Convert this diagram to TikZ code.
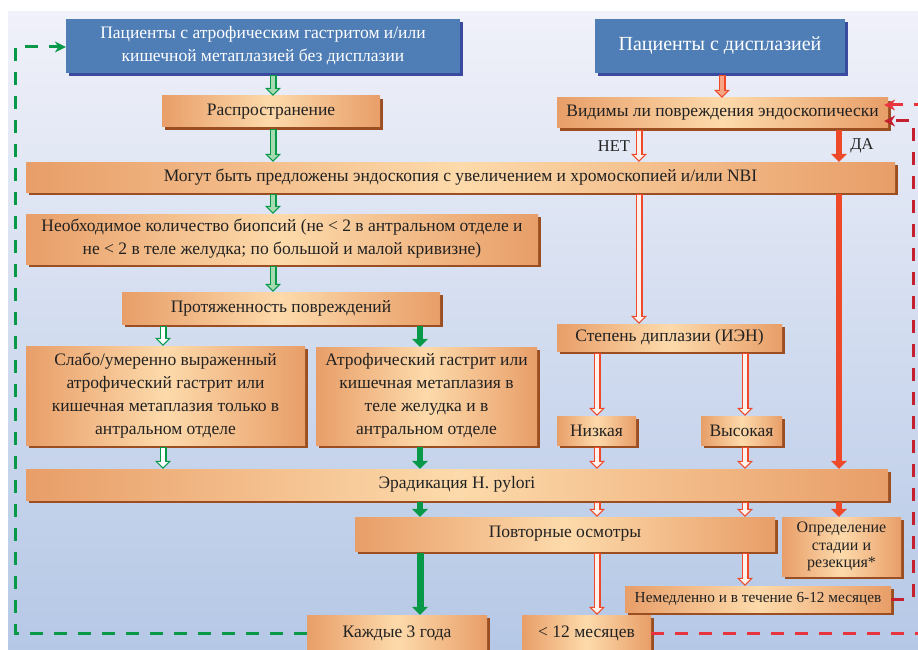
\documentclass[tikz,border=0pt]{standalone}
\usepackage{fontspec}
\setmainfont{Liberation Serif}
\usepackage{tikz}
\usetikzlibrary{arrows.meta, shadows}

\definecolor{boxdark}{HTML}{E89E68}
\definecolor{boxlight}{HTML}{FDDAAB}
\definecolor{boxshade}{HTML}{9A4E22}
\definecolor{patblue}{HTML}{4F7EB6}
\definecolor{patshade}{HTML}{3A4A9E}
\definecolor{arrgreen}{HTML}{079848}
\definecolor{palegreen}{HTML}{A6DAB0}
\definecolor{arrred}{HTML}{EE4A2A}
\definecolor{palered}{HTML}{FFF1EC}
\definecolor{salmon}{HTML}{F7A582}
\definecolor{loopred}{HTML}{E8343C}
\definecolor{darkred}{HTML}{C42030}
\definecolor{bgtop}{HTML}{F0F1F9}
\definecolor{bgbottom}{HTML}{B5C8E6}
\definecolor{inktext}{HTML}{222222}

\tikzstyle{patient} = [rectangle, minimum height=54pt, text=white, fill=patblue, align=center, font=\fontsize{17.5}{23}\selectfont, drop shadow={shadow xshift=3pt, shadow yshift=-3pt, opacity=1, fill=patshade}]
\tikzstyle{process} = [rectangle, minimum height=30pt, align=center, text=inktext, left color=boxdark, right color=boxdark, middle color=boxlight, font=\fontsize{17.5}{23}\selectfont, drop shadow={shadow xshift=3pt, shadow yshift=-3pt, opacity=1, fill=boxshade}]
\tikzstyle{small} = [font=\fontsize{15.3}{17.5}\selectfont]
\tikzstyle{answer} = [text=inktext, font=\fontsize{16.5}{20}\selectfont]
\tikzstyle{hollowout} = [line width=7pt, shorten <=2pt, -{Triangle[length=8pt, width=16pt, line width=0pt]}]
\tikzstyle{hollowin} = [line width=4pt, shorten <=3pt, shorten >=1.6pt, -{Triangle[length=5pt, width=10pt, line width=0pt]}]
\tikzstyle{solidarrow} = [line width=6pt, shorten <=2pt, -{Triangle[length=8pt, width=16pt, line width=0pt]}]
\tikzstyle{loopline} = [line width=3pt, dash pattern=on 13pt off 11pt, -{Stealth[length=11pt, width=11pt, line width=0pt]}]

\newcommand{\hollowarrow}[4]{\draw[hollowout, draw=#1] #3 -- #4; \draw[hollowin, draw=#2] #3 -- #4;}

\begin{document}
\begin{tikzpicture}[x=1pt, y=-1pt]

    \useasboundingbox (0,0) rectangle (918,650);
    \fill[white] (0,0) rectangle (918,650);
    \shade[top color=bgtop, bottom color=bgbottom] (8,12) rectangle (918,650);

    % two groups of patients
    \node (pat1) [patient, minimum width=394pt] at (263,46) {Пациенты с атрофическим гастритом и/или\\кишечной метаплазией без дисплазии};
    \node (pat2) [patient, minimum width=250pt, font=\fontsize{20}{23}\selectfont] at (720,46) {Пациенты с дисплазией};

    \node (rasp) [process, minimum width=218pt, minimum height=31pt] at (271,111.5) {Распространение};
    \node (vid) [process, minimum width=331pt] at (722.5,113) {Видимы ли повреждения эндоскопически};
    \node (endo) [process, minimum width=869pt] at (460.5,177) {Могут быть предложены эндоскопия с увеличением и хромоскопией и/или NBI};
    \node (biop) [process, minimum width=512pt, minimum height=50pt] at (282,239) {Необходимое количество биопсий (не < 2 в антральном отделе и\\не < 2 в теле желудка; по большой и малой кривизне)};
    \node (prot) [process, minimum width=318pt, minimum height=32pt] at (281,308) {Протяженность повреждений};
    \node (slabo) [process, minimum width=279pt, minimum height=99pt] at (165.5,395.5) {Слабо/умеренно выраженный\\атрофический гастрит или\\кишечная метаплазия только в\\антральном отделе};
    \node (atrof) [process, minimum width=221pt, minimum height=98pt] at (426.5,396) {Атрофический гастрит или\\кишечная метаплазия в\\теле желудка и в\\антральном отделе};
    \node (step) [process, minimum width=225pt, minimum height=27pt] at (669.5,337.5) {Степень диплазии (ИЭН)};
    \node (nizk) [process, minimum width=79pt, minimum height=29pt] at (596.5,430.5) {Низкая};
    \node (vys) [process, minimum width=81pt, minimum height=29pt] at (741.5,430.5) {Высокая};
    \node (erad) [process, minimum width=862pt, minimum height=31pt] at (457,484.5) {Эрадикация H. pylori};
    \node (povt) [process, minimum width=420pt, minimum height=34pt] at (565,534) {Повторные осмотры};
    \node (opr) [process, font=\fontsize{16}{17.5}\selectfont, minimum width=119pt, minimum height=59pt] at (841.5,546.5) {Определение\\стадии и\\резекция*};
    \node (nem) [process, small, minimum width=266pt, minimum height=26pt] at (758,599) {Немедленно и в течение 6-12 месяцев};
    \node (kazh) [process, minimum width=180pt, minimum height=36pt] at (397,633) {Каждые 3 года};
    \node (m12) [process, minimum width=129pt, minimum height=36pt] at (586.5,633) {< 12 месяцев};

    \node (no) [answer] at (614,146) {НЕТ};
    \node (yes) [answer] at (862,146) {ДА};

    % arrow columns
    \coordinate (gx) at (273,0);
    \coordinate (lx) at (163,0);
    \coordinate (rx) at (420,0);
    \coordinate (px) at (722,0);
    \coordinate (nx) at (639,0);
    \coordinate (dx) at (839,0);
    \coordinate (ax) at (597,0);
    \coordinate (bx) at (745,0);

    % green side
    \hollowarrow{arrgreen}{palegreen}{(pat1.south -| gx)}{(rasp.north -| gx)}
    \hollowarrow{arrgreen}{palegreen}{(rasp.south -| gx)}{(endo.north -| gx)}
    \hollowarrow{arrgreen}{palegreen}{(endo.south -| gx)}{(biop.north -| gx)}
    \hollowarrow{arrgreen}{palegreen}{(biop.south -| gx)}{(prot.north -| gx)}
    \hollowarrow{arrgreen}{white}{(prot.south -| lx)}{(slabo.north -| lx)}
    \hollowarrow{arrgreen}{white}{(slabo.south -| lx)}{(erad.north -| lx)}
    \draw [solidarrow, arrgreen] (prot.south -| rx) -- (atrof.north -| rx);
    \draw [solidarrow, arrgreen] (atrof.south -| rx) -- (erad.north -| rx);
    \draw [solidarrow, arrgreen] (erad.south -| rx) -- (povt.north -| rx);
    \draw [solidarrow, arrgreen, line width=7pt] (povt.south -| rx) -- (kazh.north -| rx);

    % red side
    \hollowarrow{arrred}{salmon}{(pat2.south -| px)}{(vid.north -| px)}
    \hollowarrow{arrred}{palered}{(vid.south -| nx)}{(endo.north -| nx)}
    \hollowarrow{arrred}{palered}{(endo.south -| nx)}{(step.north -| nx)}
    \draw [solidarrow, arrred] (vid.south -| dx) -- (endo.north -| dx);
    \draw [solidarrow, arrred] (endo.south -| dx) -- (erad.north -| dx);
    \draw [solidarrow, arrred] (erad.south -| dx) -- (opr.north -| dx);
    \hollowarrow{arrred}{palered}{(step.south -| ax)}{(nizk.north -| ax)}
    \hollowarrow{arrred}{palered}{(step.south -| bx)}{(vys.north -| bx)}
    \hollowarrow{arrred}{palered}{(nizk.south -| ax)}{(erad.north -| ax)}
    \hollowarrow{arrred}{palered}{(vys.south -| bx)}{(erad.north -| bx)}
    \hollowarrow{arrred}{palered}{(erad.south -| ax)}{(povt.north -| ax)}
    \hollowarrow{arrred}{palered}{(erad.south -| bx)}{(povt.north -| bx)}
    \hollowarrow{arrred}{palered}{(povt.south -| ax)}{(m12.north -| ax)}
    \hollowarrow{arrred}{palered}{(povt.south -| bx)}{(nem.north -| bx)}

    % follow-up loops
    \coordinate (gloop) at (15,47);
    \coordinate (rloop) at (913,121);
    \coordinate (oloop) at (921,105);
    \draw [loopline, arrgreen] (kazh.west) -| (gloop) -- (pat1.west |- gloop);
    \draw [loopline, darkred, shorten >=-4pt] (nem.east) -| (rloop) -- (vid.east |- rloop);
    \draw [loopline, loopred, shorten >=-4pt] (m12.east) -| (oloop) -- (vid.east |- oloop);

\end{tikzpicture}
\end{document}
